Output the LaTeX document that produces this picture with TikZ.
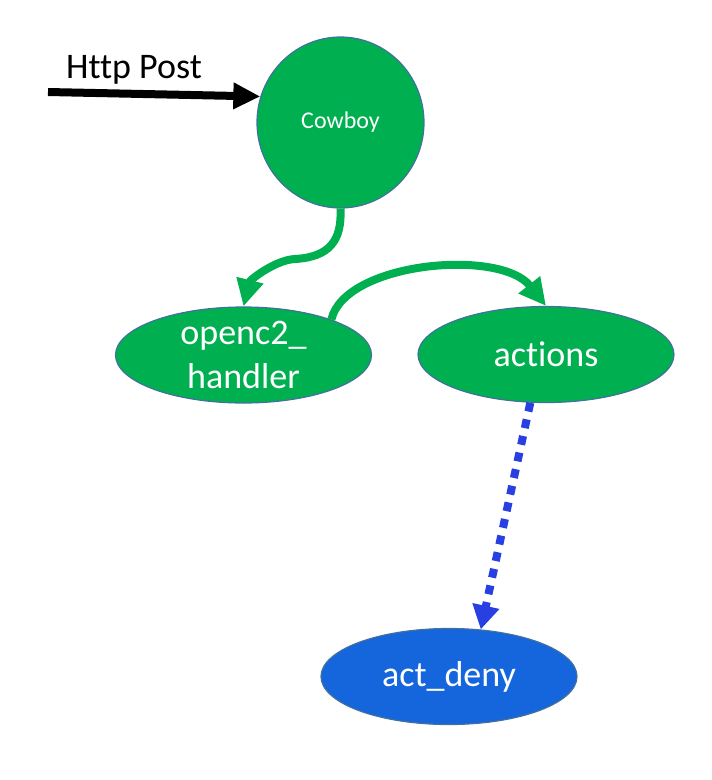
\documentclass[tikz,border=0pt]{standalone}
\usepackage{fontspec}
\setmainfont{Carlito}[Ligatures=NoCommon]
\usetikzlibrary{shapes.geometric,arrows.meta}
\definecolor{gr}{RGB}{0,176,80}
\definecolor{bu}{RGB}{21,101,220}
\definecolor{dt}{RGB}{40,64,226}
\definecolor{ol}{RGB}{65,113,156}
\tikzset{cb/.style = {ellipse, fill=gr, draw=ol, line width=1.2pt, minimum width=167pt, minimum height=171pt, inner sep=0pt, text=white, font=\fontsize{24}{29}\selectfont},
           el/.style = {ellipse, fill=gr, draw=ol, line width=1.2pt, minimum width=256pt, minimum height=96pt, inner sep=0pt, text=white, align=center, font=\fontsize{36}{44}\selectfont},
           de/.style = {el, fill=bu},
           ka/.style = {draw=black, line width=8pt, -{Triangle[length=27pt,width=25pt]}},
           ga/.style = {draw=gr, line width=8pt, -{Triangle[length=27pt,width=26pt]}},
           da/.style = {draw=dt, line width=8pt, dash pattern=on 9pt off 8pt, -{Triangle[length=24pt,width=26pt]}}}

\begin{document}
\begin{tikzpicture}[x=1pt, y=-1pt]
    \useasboundingbox (0,0) rectangle (712,780);
    \node[cb] (cow) at (340.5,122.5) {Cowboy};
    \node[el] (hd) at (243.5,355) {openc2\_\\handler};
    \node[el] (ac) at (546,354.5) {actions};
    \node[de] (dn) at (449,676.5) {act\_deny};
    \node[font=\fontsize{36}{44}\selectfont] (lb) at (134,70) {Http Post};
    \coordinate (src) at (48,92);
    \draw[ka] (src) -- (cow.162);
    \draw[ga] (cow.south) .. controls (342,240) and (330,257) .. (295,259)
                          .. controls (275,260) and (250,280) .. (hd.north);
    \draw[ga] (hd.22) .. controls (345,262) and (500,248) .. (ac.north);
    \draw[da] (ac.252) -- (dn.56);
\end{tikzpicture}
\end{document}
